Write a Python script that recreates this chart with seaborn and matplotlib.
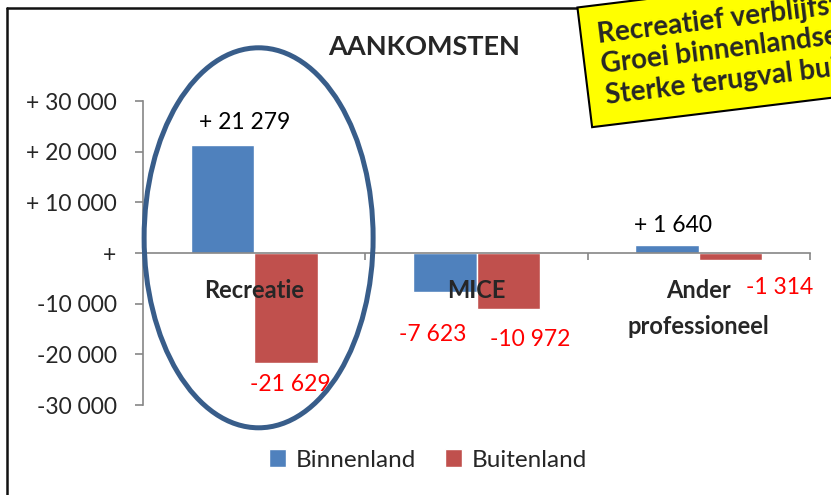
import matplotlib
matplotlib.use("Agg")
import matplotlib.pyplot as plt
import numpy as np
import pandas as pd
import seaborn as sns
from matplotlib.lines import Line2D
from matplotlib.patches import Ellipse

# data
categories = ["Recreatie", "MICE", "Ander\nprofessioneel"]
binnenland = [21279, -7623, 1640]
buitenland = [-21629, -10972, -1314]
series_names = ["Binnenland", "Buitenland"]
y_ticks = [30000, 20000, 10000, 0, -10000, -20000, -30000]
title = "AANKOMSTEN"
note_lines = ["Recreatief verblijfstoerisme:", "Groei binnenlandse markt", "Sterke terugval buitenlandse markt"]

# label offsets (points) as placed by hand in the original
label_offsets = [[(16, 16), (-9, -31), (4, 14)], [(3, -16), (16, -22), (35, -20)]]

BLUE = "#4F81BD"
RED = "#C0504D"
GRID = "#868686"

sns.set_theme(style="white")
plt.rcParams["font.family"] = ["Lato", "DejaVu Sans"]


def fmt(v):
    s = f"{abs(int(v)):,}".replace(",", " ")
    if v > 0:
        return "+ " + s
    if v < 0:
        return "-" + s
    return "+"


df = pd.DataFrame({
    "Categorie": categories * 2,
    "Markt": [series_names[0]] * 3 + [series_names[1]] * 3,
    "Aankomsten": binnenland + buitenland,
})

fig = plt.figure(figsize=(8.31, 4.95), dpi=100)
ax = fig.add_axes([143 / 831, 1 - 405 / 495, (810 - 143) / 831, (405 - 101) / 495])

sns.barplot(data=df, x="Categorie", y="Aankomsten", hue="Markt", order=categories,
            hue_order=series_names, palette=[BLUE, RED], width=0.57, saturation=1,
            errorbar=None, ax=ax)
ax.get_legend().remove()
ax.set_axisbelow(False)

ax.set_xlim(-0.5, len(categories) - 0.5)
ax.set_ylim(-30000, 30000)
ax.set_xlabel("")
ax.set_ylabel("")

# y axis
ax.set_yticks(y_ticks)
ax.set_yticklabels([fmt(v) for v in y_ticks], fontsize=16.5)
for side in ["top", "right"]:
    ax.spines[side].set_visible(False)
ax.spines["left"].set_color(GRID)
ax.spines["left"].set_linewidth(1.2)
ax.spines["bottom"].set_position(("data", 0))
ax.spines["bottom"].set_color(GRID)
ax.spines["bottom"].set_linewidth(1.2)
ax.tick_params(axis="y", direction="out", length=6, width=1.2, color=GRID, pad=13, left=True)

# x axis: boundary ticks on the zero line, category names as minor labels
ax.set_xticks(np.arange(len(categories)) + 0.5)
ax.set_xticklabels([""] * len(categories))
ax.tick_params(axis="x", which="major", direction="out", length=5, width=1.2, color=GRID, bottom=True)
ax.set_xticks(np.arange(len(categories)), minor=True)
ax.set_xticklabels(categories, minor=True, fontsize=17, fontweight="bold", linespacing=1.65)
ax.tick_params(axis="x", which="minor", length=0, pad=19)

# value labels
for ci, cont in enumerate(ax.containers):
    for bi, bar in enumerate(cont):
        v = bar.get_height()
        x = bar.get_x() + bar.get_width() / 2
        dx, dy = label_offsets[ci][bi]
        ax.annotate(fmt(v), xy=(x, v), xytext=(dx, dy), textcoords="offset points",
                    ha="center", va="center", fontsize=16.5,
                    color="black" if v > 0 else "#FF0000", annotation_clip=False)

# highlight ellipse around Recreatie
ax.add_patch(Ellipse((0.02, 3000), 1.03, 75000, fill=False, edgecolor="#385D8A",
                     linewidth=3.6, clip_on=False, zorder=6))

# title and legend
fig.text(424 / 831, 1 - 47 / 495, title, ha="center", va="center", fontsize=19.5, fontweight="bold")
handles, labels = ax.get_legend_handles_labels()
fig.legend(handles, labels, loc="center", bbox_to_anchor=(428 / 831, 1 - 460 / 495), ncol=2,
           frameon=False, fontsize=17.5, handlelength=0.7, handleheight=0.7, columnspacing=1.2,
           handletextpad=0.4)

# chart frame (only left and top are visible in the crop)
fig.add_artist(Line2D([7 / 831, 7 / 831], [0, 1 - 8 / 495], color="#111111", linewidth=1.8))
fig.add_artist(Line2D([7 / 831, 1], [1 - 8 / 495, 1 - 8 / 495], color="#111111", linewidth=1.8))

# yellow note box, cut off at the right edge
fig.text(596 / 831, 1 - 22 / 495, "\n".join(note_lines), ha="left", va="top", rotation=7,
         rotation_mode="anchor", fontsize=20, fontweight="bold", linespacing=1.22,
         bbox=dict(boxstyle="square,pad=0.6", facecolor="#FFFF00", edgecolor="black", linewidth=1.5),
         zorder=10)

fig.savefig("out.png", dpi=100)
plt.close(fig)
